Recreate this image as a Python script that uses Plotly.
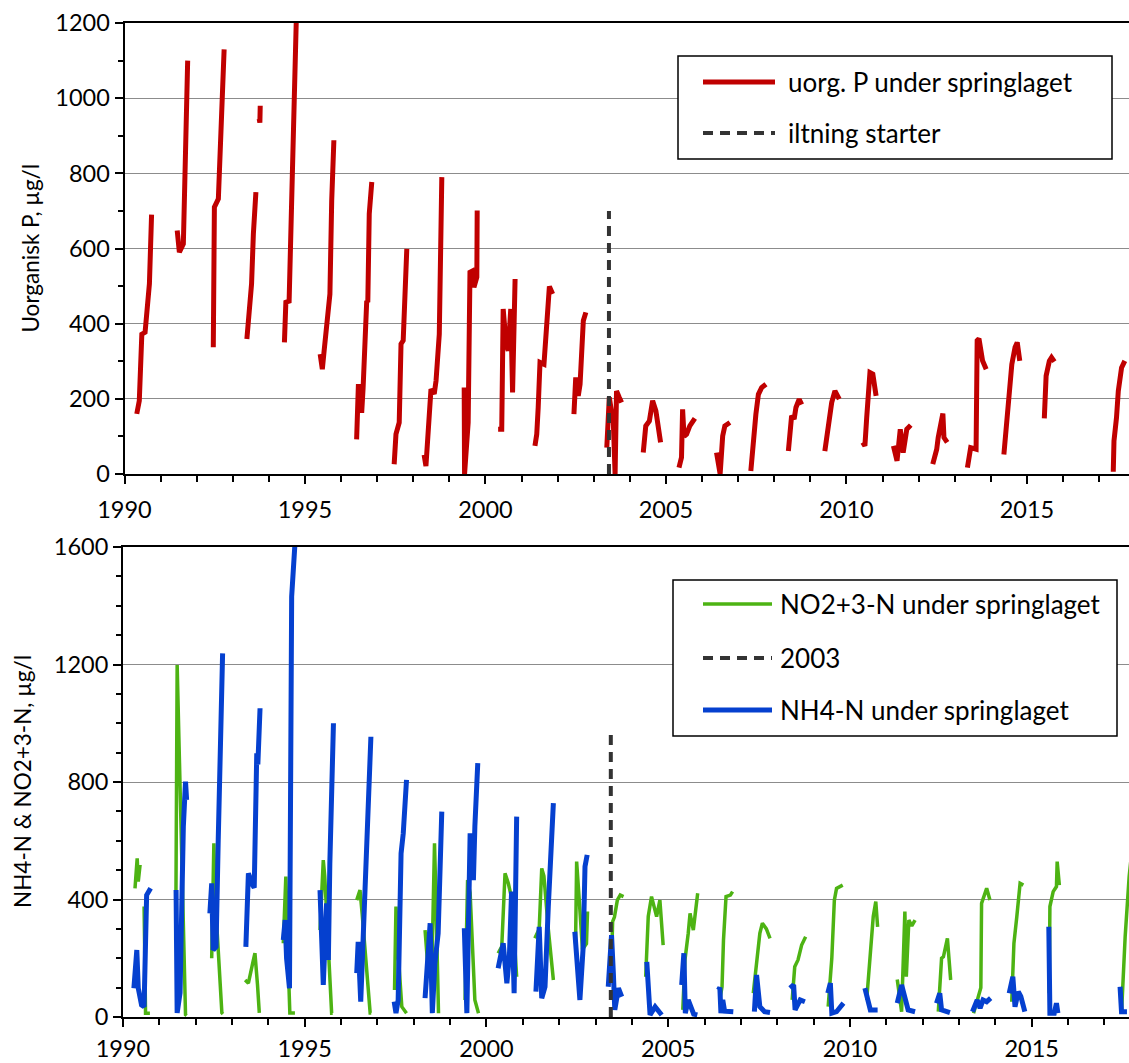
import plotly.graph_objects as go

# ---------------------------------------------------------------------------
# Measurements below the thermocline (decimal year, µg/l).
# None separates one stratified season from the next.
# ---------------------------------------------------------------------------
P_SAMPLES = [
    (1990.34, 160), (1990.41, 195), (1990.48, 372), (1990.57, 377), (1990.69, 506), (1990.71, 639), (1990.75, 690), None,
    (1991.46, 648), (1991.52, 590), (1991.63, 612), (1991.67, 800), (1991.70, 1000), (1991.73, 1092), (1991.75, 1100), None,
    (1992.46, 337), (1992.49, 710), (1992.60, 732), (1992.66, 906), (1992.74, 1039), (1992.76, 1130), None,
    (1993.39, 359), (1993.52, 506), (1993.57, 639), (1993.64, 750), None,
    (1993.73, 945), (1993.75, 935), (1993.76, 980), None,
    (1994.43, 350), (1994.47, 457), (1994.56, 460), (1994.77, 1250), None,
    (1995.42, 319), (1995.48, 279), (1995.53, 328), (1995.60, 399), (1995.69, 479), (1995.74, 728), (1995.80, 888), None,
    (1996.43, 92), (1996.48, 239), (1996.57, 163), (1996.61, 230), (1996.71, 461), (1996.74, 457), (1996.78, 692), (1996.85, 777), None,
    (1997.47, 26), (1997.52, 106), (1997.61, 137), (1997.66, 346), (1997.72, 355), (1997.82, 599), None,
    (1998.30, 51), (1998.35, 21), (1998.49, 226), (1998.58, 213), (1998.63, 248), (1998.72, 372), (1998.79, 790), None,
    (1999.41, 230), (1999.42, 0), (1999.52, 137), (1999.57, 537), (1999.63, 540), (1999.68, 497), (1999.76, 524), (1999.77, 701), None,
    (2000.35, 119), (2000.45, 119), (2000.49, 439), (2000.57, 346), (2000.63, 328), (2000.70, 439), (2000.75, 217), (2000.82, 519), None,
    (2001.37, 75), (2001.42, 106), (2001.46, 177), (2001.51, 297), (2001.62, 292), (2001.70, 408), (2001.77, 499), (2001.86, 479), None,
    (2002.45, 159), (2002.50, 257), (2002.57, 208), (2002.62, 239), (2002.71, 408), (2002.78, 430), None,
    (2003.36, 70), (2003.43, 204), (2003.50, 160), (2003.54, 141), (2003.59, 0), (2003.63, 221), (2003.70, 205), (2003.77, 190), None,
    (2004.37, 57), (2004.44, 128), (2004.54, 141), (2004.63, 195), (2004.72, 168), (2004.85, 84), None,
    (2005.36, 17), (2005.43, 44), (2005.46, 172), (2005.50, 100), (2005.57, 106), (2005.66, 128), (2005.80, 148), None,
    (2006.40, 57), (2006.50, 0), (2006.57, 101), (2006.63, 128), (2006.77, 137), None,
    (2007.35, 8), (2007.42, 92), (2007.49, 159), (2007.56, 212), (2007.65, 230), (2007.77, 239), None,
    (2008.39, 61), (2008.48, 155), (2008.55, 146), (2008.60, 177), (2008.69, 199), (2008.76, 185), None,
    (2009.40, 61), (2009.50, 124), (2009.59, 190), (2009.68, 221), (2009.80, 199), None,
    (2010.45, 84), (2010.51, 75), (2010.56, 150), (2010.65, 270), (2010.73, 266), (2010.82, 208), None,
    (2011.30, 75), (2011.40, 35), (2011.49, 119), (2011.57, 57), (2011.67, 119), (2011.78, 130), None,
    (2012.39, 26), (2012.50, 66), (2012.54, 97), (2012.67, 161), (2012.70, 97), (2012.79, 84), None,
    (2013.35, 17), (2013.44, 70), (2013.59, 66), (2013.62, 355), (2013.67, 360), (2013.77, 301), (2013.87, 279), None,
    (2014.36, 52), (2014.58, 292), (2014.67, 337), (2014.73, 350), (2014.80, 301), None,
    (2015.48, 148), (2015.53, 261), (2015.62, 301), (2015.68, 310), (2015.76, 299), None,
    (2017.39, 6), (2017.41, 88), (2017.48, 150), (2017.53, 221), (2017.62, 283), (2017.71, 301),
]

NOX_SAMPLES = [
    (1990.33, 438), (1990.39, 540), (1990.42, 461), (1990.47, 518), None,
    (1990.58, 376), (1990.62, 13), (1990.74, 13), None,
    (1991.45, 260), (1991.49, 1198), (1991.72, 8), (1991.75, 5), None,
    (1992.44, 200), (1992.50, 591), (1992.53, 420), (1992.72, 14), (1992.75, 10), None,
    (1993.36, 126), (1993.45, 115), (1993.58, 190), (1993.63, 217), (1993.70, 110), (1993.72, 58), (1993.75, 14), None,
    (1994.41, 251), (1994.48, 478), (1994.54, 200), (1994.59, 14), (1994.73, 14), None,
    (1995.42, 296), (1995.51, 534), (1995.55, 480), (1995.65, 200), (1995.74, 13), (1995.77, 13), None,
    (1996.43, 398), (1996.52, 432), (1996.58, 350), (1996.67, 200), (1996.80, 14), (1996.83, 14), None,
    (1997.47, 92), (1997.51, 376), (1997.58, 200), (1997.67, 35), (1997.80, 13), None,
    (1998.31, 296), (1998.40, 149), (1998.50, 180), (1998.57, 591), (1998.60, 450), (1998.68, 13), None,
    (1999.41, 58), (1999.48, 466), (1999.55, 422), (1999.64, 183), (1999.68, 58), (1999.78, 13), None,
    (2000.32, 217), (2000.42, 240), (2000.51, 489), (2000.60, 455), (2000.70, 400), (2000.83, 137), None,
    (2001.33, 268), (2001.45, 300), (2001.52, 506), (2001.58, 480), (2001.70, 300), (2001.84, 126), None,
    (2002.45, 250), (2002.48, 529), (2002.54, 420), (2002.64, 230), (2002.75, 250), (2002.78, 359), None,
    (2003.44, 180), (2003.47, 325), (2003.52, 340), (2003.60, 398), (2003.68, 415), (2003.77, 410), None,
    (2004.38, 137), (2004.45, 342), (2004.54, 410), (2004.68, 342), (2004.77, 398), (2004.86, 245), None,
    (2005.40, 24), (2005.46, 194), (2005.55, 285), (2005.60, 353), (2005.69, 296), (2005.81, 421), None,
    (2006.42, 60), (2006.48, 103), (2006.52, 262), (2006.59, 410), (2006.71, 415), (2006.77, 427), None,
    (2007.34, 81), (2007.45, 200), (2007.52, 285), (2007.59, 319), (2007.70, 300), (2007.80, 268), None,
    (2008.41, 58), (2008.48, 171), (2008.57, 194), (2008.67, 245), (2008.78, 273), None,
    (2009.40, 35), (2009.50, 200), (2009.57, 398), (2009.63, 438), (2009.80, 449), None,
    (2010.46, 58), (2010.55, 205), (2010.64, 342), (2010.71, 393), (2010.76, 307), None,
    (2011.30, 128), (2011.42, 18), (2011.51, 359), (2011.55, 137), (2011.62, 330), (2011.70, 310), (2011.79, 330), None,
    (2012.43, 18), (2012.52, 200), (2012.57, 205), (2012.68, 268), (2012.77, 126), None,
    (2013.40, 13), (2013.50, 58), (2013.60, 100), (2013.62, 387), (2013.70, 420), (2013.76, 438), (2013.85, 398), None,
    (2014.45, 52), (2014.51, 251), (2014.59, 342), (2014.68, 455), (2014.77, 449), None,
    (2015.48, 81), (2015.50, 376), (2015.59, 427), (2015.68, 444), (2015.70, 529), (2015.76, 449), None,
    (2017.47, 13), (2017.57, 273), (2017.68, 478), (2017.75, 560),
]

NH4_SAMPLES = [
    (1990.30, 98), (1990.38, 228), (1990.42, 98), (1990.51, 41), (1990.58, 35), (1990.65, 415), (1990.76, 438), None,
    (1991.46, 432), (1991.49, 14), (1991.57, 82), (1991.66, 648), (1991.72, 801), (1991.75, 739), None,
    (1992.39, 353), (1992.44, 455), (1992.48, 228), (1992.56, 239), (1992.62, 603), (1992.67, 920), (1992.74, 1238), None,
    (1993.38, 239), (1993.45, 489), (1993.57, 449), (1993.61, 440), (1993.68, 898), (1993.71, 860), (1993.77, 1051), None,
    (1994.41, 262), (1994.46, 330), (1994.50, 200), (1994.58, 98), (1994.64, 1431), (1994.69, 1511), (1994.75, 1650), None,
    (1995.42, 432), (1995.47, 250), (1995.51, 109), (1995.60, 387), (1995.65, 194), (1995.69, 523), (1995.79, 1000), None,
    (1996.43, 149), (1996.47, 256), (1996.54, 52), (1996.61, 307), (1996.82, 954), None,
    (1997.46, 52), (1997.51, 13), (1997.57, 58), (1997.65, 557), (1997.71, 625), (1997.80, 807), None,
    (1998.31, 64), (1998.40, 239), (1998.45, 319), (1998.51, 13), (1998.58, 183), (1998.67, 285), (1998.77, 699), None,
    (1999.39, 302), (1999.46, 13), (1999.55, 625), (1999.64, 466), (1999.68, 648), (1999.76, 864), None,
    (2000.32, 166), (2000.46, 251), (2000.56, 115), (2000.63, 205), (2000.69, 427), (2000.76, 81), (2000.83, 682), None,
    (2001.36, 86), (2001.45, 307), (2001.52, 64), (2001.61, 103), (2001.70, 376), (2001.84, 728), None,
    (2002.43, 290), (2002.53, 75), (2002.57, 58), (2002.66, 239), (2002.71, 512), (2002.77, 552), None,
    (2003.35, 103), (2003.44, 279), (2003.49, 149), (2003.53, 24), (2003.63, 98), (2003.72, 69), None,
    (2004.41, 188), (2004.50, 7), (2004.64, 35), (2004.82, 7), None,
    (2005.37, 109), (2005.43, 217), (2005.47, 13), (2005.55, 58), (2005.70, 10), (2005.80, 7), None,
    (2006.38, 92), (2006.42, 100), (2006.45, 13), (2006.50, 58), (2006.55, 20), (2006.79, 18), None,
    (2007.37, 18), (2007.43, 143), (2007.52, 35), (2007.65, 18), (2007.80, 15), None,
    (2008.35, 98), (2008.45, 109), (2008.49, 24), (2008.63, 58), (2008.76, 52), None,
    (2009.39, 81), (2009.46, 115), (2009.50, 13), (2009.63, 18), (2009.82, 47), None,
    (2010.41, 98), (2010.50, 58), (2010.56, 24), (2010.76, 24), None,
    (2011.30, 47), (2011.42, 109), (2011.54, 52), (2011.60, 24), (2011.79, 18), None,
    (2012.38, 47), (2012.47, 81), (2012.52, 24), (2012.75, 15), None,
    (2013.37, 18), (2013.50, 58), (2013.58, 30), (2013.66, 58), (2013.76, 52), (2013.87, 64), None,
    (2014.38, 81), (2014.48, 137), (2014.54, 35), (2014.63, 86), (2014.70, 70), (2014.81, 18), None,
    (2015.47, 307), (2015.50, 13), (2015.62, 13), (2015.68, 47), (2015.72, 13), None,
    (2017.43, 103), (2017.47, 18), (2017.62, 18),
]

# Start of artificial oxygenation and the heights of its marker lines
AERATION_YEAR = 2003.42
AERATION_MARK_P = 700
AERATION_MARK_N = 980

YEAR_RANGE_P = [1990, 2017.826]
YEAR_RANGE_N = [1990, 2017.676]
P_RANGE = [0, 1200]
N_RANGE = [0, 1600]

P_LABEL = "uorg. P under springlaget"
AERATION_LABEL_P = "iltning starter"
NOX_LABEL = "NO2+3-N under springlaget"
AERATION_LABEL_N = "2003"
NH4_LABEL = "NH4-N under springlaget"

# ---------------------------------------------------------------------------
W, H = 1129, 1063
FONT = "Lato"
TICK_SIZE = 23.5
LEGEND_SIZE = 26
TITLE_SIZE = 22.5
RED = "#C00000"
GREEN = "#4DB313"
BLUE = "#0540CF"
DASHC = "#333333"
DASH = "10px,7px"
GRID = "#8C8C8C"


def fx(p):
    return p / W


def fy(p):
    return 1 - p / H


def unzip(samples):
    xs = [s[0] if s else None for s in samples]
    ys = [s[1] if s else None for s in samples]
    return xs, ys


fig = go.Figure()

x, y = unzip(P_SAMPLES)
fig.add_trace(go.Scatter(x=x, y=y, mode="lines", name=P_LABEL,
                         line=dict(color=RED, width=5), xaxis="x", yaxis="y"))
fig.add_trace(go.Scatter(x=[AERATION_YEAR, AERATION_YEAR], y=[0, AERATION_MARK_P], mode="lines",
                         name=AERATION_LABEL_P, line=dict(color=DASHC, width=4, dash=DASH),
                         xaxis="x", yaxis="y"))

x, y = unzip(NOX_SAMPLES)
fig.add_trace(go.Scatter(x=x, y=y, mode="lines", name=NOX_LABEL,
                         line=dict(color=GREEN, width=3.5), xaxis="x2", yaxis="y2"))
x, y = unzip(NH4_SAMPLES)
fig.add_trace(go.Scatter(x=x, y=y, mode="lines", name=NH4_LABEL,
                         line=dict(color=BLUE, width=5), xaxis="x2", yaxis="y2"))
fig.add_trace(go.Scatter(x=[AERATION_YEAR, AERATION_YEAR], y=[0, AERATION_MARK_N], mode="lines",
                         name=AERATION_LABEL_N, line=dict(color=DASHC, width=4, dash=DASH),
                         xaxis="x2", yaxis="y2"))

tickfont = dict(family=FONT, size=TICK_SIZE, color="black")


def year_axis(rng, dom, anchor, standoff):
    return dict(
        domain=dom, anchor=anchor, range=rng, tickmode="linear", tick0=1990, dtick=5,
        automargin=False,
        showline=True, linecolor="black", linewidth=2, mirror=True,
        ticks="outside", ticklen=8, tickwidth=2, tickcolor="black",
        ticklabelstandoff=standoff, tickfont=tickfont, showgrid=False, zeroline=False,
        minor=dict(tick0=1990, dtick=1, ticks="outside", ticklen=6, tickwidth=1.5,
                   tickcolor="black", showgrid=False),
    )


def inner_ticks(over, rng, anchor):
    return dict(
        overlaying=over, anchor=anchor, range=rng, tickmode="linear", tick0=1990, dtick=5,
        automargin=False,
        ticks="inside", ticklen=8, tickwidth=2, tickcolor="black",
        showticklabels=False, showline=False, showgrid=False, zeroline=False,
    )


def value_axis(rng, step, dom, anchor):
    return dict(
        domain=dom, anchor=anchor, range=rng, tickmode="linear", tick0=0, dtick=step,
        automargin=False,
        showline=True, linecolor="black", linewidth=2, mirror=False,
        ticks="outside", ticklen=8, tickwidth=2, tickcolor="black",
        tickfont=tickfont, showgrid=True, gridcolor=GRID, gridwidth=1.3, zeroline=False,
        minor=dict(tick0=0, dtick=100, ticks="outside", ticklen=5, tickwidth=1.5,
                   tickcolor="black", showgrid=False),
    )


top_dom_y = [fy(474), fy(23)]
bot_dom_y = [fy(1017), fy(547)]

fig.update_layout(
    width=W, height=H,
    margin=dict(l=0, r=0, t=0, b=0, pad=0, autoexpand=False),
    paper_bgcolor="white", plot_bgcolor="white",
    showlegend=False,
    font=dict(family=FONT, size=TICK_SIZE, color="black"),
    xaxis=year_axis(YEAR_RANGE_P, [fx(124.5), 1], "y", 6),
    yaxis=value_axis(P_RANGE, 200, top_dom_y, "x"),
    xaxis2=year_axis(YEAR_RANGE_N, [fx(123), 1], "y2", 2),
    yaxis2=value_axis(N_RANGE, 400, bot_dom_y, "x2"),
    xaxis3=inner_ticks("x", YEAR_RANGE_P, "y"),
    xaxis4=inner_ticks("x2", YEAR_RANGE_N, "y2"),
)

shapes = []
annotations = []

# y-axis titles
annotations.append(dict(x=fx(30), y=fy(248.5), xref="paper", yref="paper", text="Uorganisk P, µg/l",
                        textangle=-90, xanchor="center", yanchor="middle", showarrow=False,
                        font=dict(family=FONT, size=TITLE_SIZE, color="black")))
annotations.append(dict(x=fx(22), y=fy(782), xref="paper", yref="paper", text="NH4-N &amp; NO2+3-N, µg/l",
                        textangle=-90, xanchor="center", yanchor="middle", showarrow=False,
                        font=dict(family=FONT, size=TITLE_SIZE, color="black")))


def legend_box(x0, x1, y0, y1, entries, sx0, sx1, tx):
    shapes.append(dict(type="rect", xref="paper", yref="paper", x0=fx(x0), x1=fx(x1), y0=fy(y1), y1=fy(y0),
                       line=dict(color="black", width=1.5), fillcolor="white", layer="above"))
    for yy, label, line in entries:
        shapes.append(dict(type="line", xref="paper", yref="paper", x0=fx(sx0), x1=fx(sx1), y0=fy(yy), y1=fy(yy),
                           line=line, layer="above"))
        annotations.append(dict(x=fx(tx), y=fy(yy), xref="paper", yref="paper", text=label,
                                xanchor="left", yanchor="middle", showarrow=False,
                                font=dict(family=FONT, size=LEGEND_SIZE, color="black")))


legend_box(678, 1112, 56, 159, [
    (82, P_LABEL, dict(color=RED, width=5)),
    (133, AERATION_LABEL_P, dict(color=DASHC, width=4, dash=DASH)),
], 703, 775, 786)

legend_box(673, 1117, 580, 736, [
    (604, NOX_LABEL, dict(color=GREEN, width=3.5)),
    (658, AERATION_LABEL_N, dict(color=DASHC, width=4, dash=DASH)),
    (710, NH4_LABEL, dict(color=BLUE, width=5)),
], 703, 772, 778)

fig.update_layout(shapes=shapes, annotations=annotations)

fig.write_html("out.html")
